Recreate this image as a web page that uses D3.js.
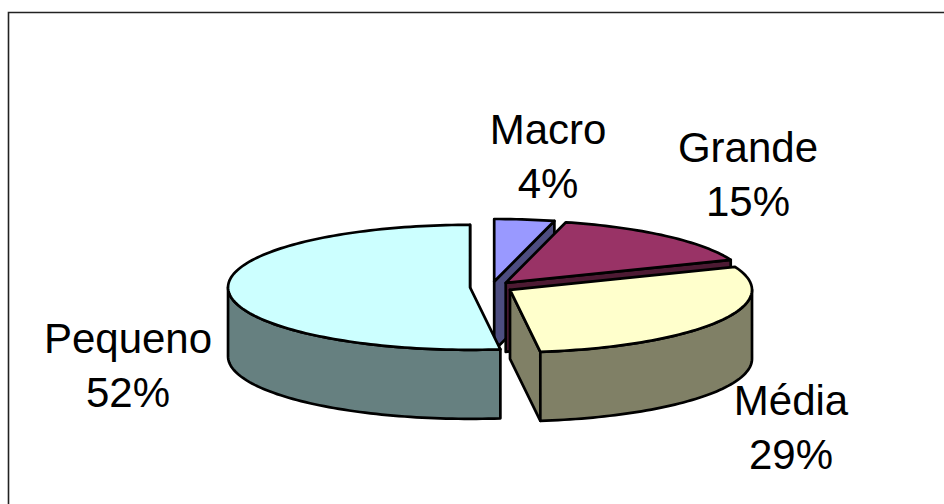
<!DOCTYPE html>
<html>
<head>
<meta charset="utf-8">
<script src="https://cdn.jsdelivr.net/npm/d3@7"></script>
<style>
  html, body { margin: 0; padding: 0; background: #fff; overflow: hidden; }
  svg { display: block; }
  text { font-family: "Liberation Sans", Arial, sans-serif; font-size: 42px; fill: #000; }
</style>
</head>
<body>
<div id="my_dataviz"></div>
<script>
let categories = ["Macro", "Grande", "Média", "Pequeno"];
let values = [4, 15, 29, 52];
let topColors = ["#9999FF", "#993366", "#FFFFCC", "#CCFFFF"];
let sideColors = ["#4D4D80", "#4D1A33", "#808066", "#668080"];
let labelX = [548, 748, 791, 128];
let labelY = [144, 162, 415, 353];

let width = 944, height = 504;
let cx = 491.5, cy = 287,
    rx = 242, ry = 62.5,
    depth = 69,
    explode = 21.5;

let svg = d3.select("#my_dataviz")
    .append("svg")
    .attr("width", width)
    .attr("height", height);

// frame runs off the picture on the right and at the bottom
svg.append("path")
    .attr("d", "M8.5," + height + "V12.5H" + width)
    .attr("fill", "none")
    .attr("stroke", "#222")
    .attr("stroke-width", 1.6);

let pie = d3.pie().sort(null).value(function (d) { return d; });
let slices = pie(values);

let line = d3.line().x(function (d) { return d[0]; }).y(function (d) { return d[1]; });

// angle is clockwise from 12 o'clock, the ellipse is the tilted circle
function project(a, c, drop) {
    return [c[0] + rx * Math.sin(a), c[1] - ry * Math.cos(a) + (drop || 0)];
}

function arcPoints(a0, a1, c, drop) {
    let n = Math.max(2, Math.ceil((a1 - a0) * 40));
    return d3.range(n + 1).map(function (i) {
        return project(a0 + (a1 - a0) * i / n, c, drop);
    });
}

function drawSlice(s, i) {
    let mid = (s.startAngle + s.endAngle) / 2;
    let c = [cx + explode * Math.sin(mid), cy - explode * (ry / rx) * Math.cos(mid)];
    let g = svg.append("g")
        .attr("stroke", "#000")
        .attr("stroke-width", 2.7)
        .attr("stroke-linejoin", "round");

    // cut face at the end of the slice
    let endPt = project(s.endAngle, c);
    g.append("path")
        .attr("d", line([c, endPt, [endPt[0], endPt[1] + depth], [c[0], c[1] + depth]]) + "Z")
        .attr("fill", sideColors[i]);

    // outer wall, front half of the ellipse only
    let a0 = Math.max(s.startAngle, Math.PI / 2),
        a1 = Math.min(s.endAngle, 3 * Math.PI / 2);
    if (a1 > a0) {
        let pts = arcPoints(a0, a1, c, 0).concat(arcPoints(a0, a1, c, depth).reverse());
        g.append("path")
            .attr("d", line(pts) + "Z")
            .attr("fill", sideColors[i]);
    }

    // top
    let topPts = [c].concat(arcPoints(s.startAngle, s.endAngle, c, 0));
    g.append("path")
        .attr("d", line(topPts) + "Z")
        .attr("fill", topColors[i]);
}

// back to front
[0, 1, 3, 2].forEach(function (i) {
    drawSlice(slices[i], i);
});

categories.forEach(function (name, i) {
    let t = svg.append("text")
        .attr("text-anchor", "middle")
        .attr("x", labelX[i])
        .attr("y", labelY[i]);
    t.append("tspan").attr("x", labelX[i]).text(name);
    t.append("tspan").attr("x", labelX[i]).attr("dy", 54).text(values[i] + "%");
});
</script>
</body>
</html>
